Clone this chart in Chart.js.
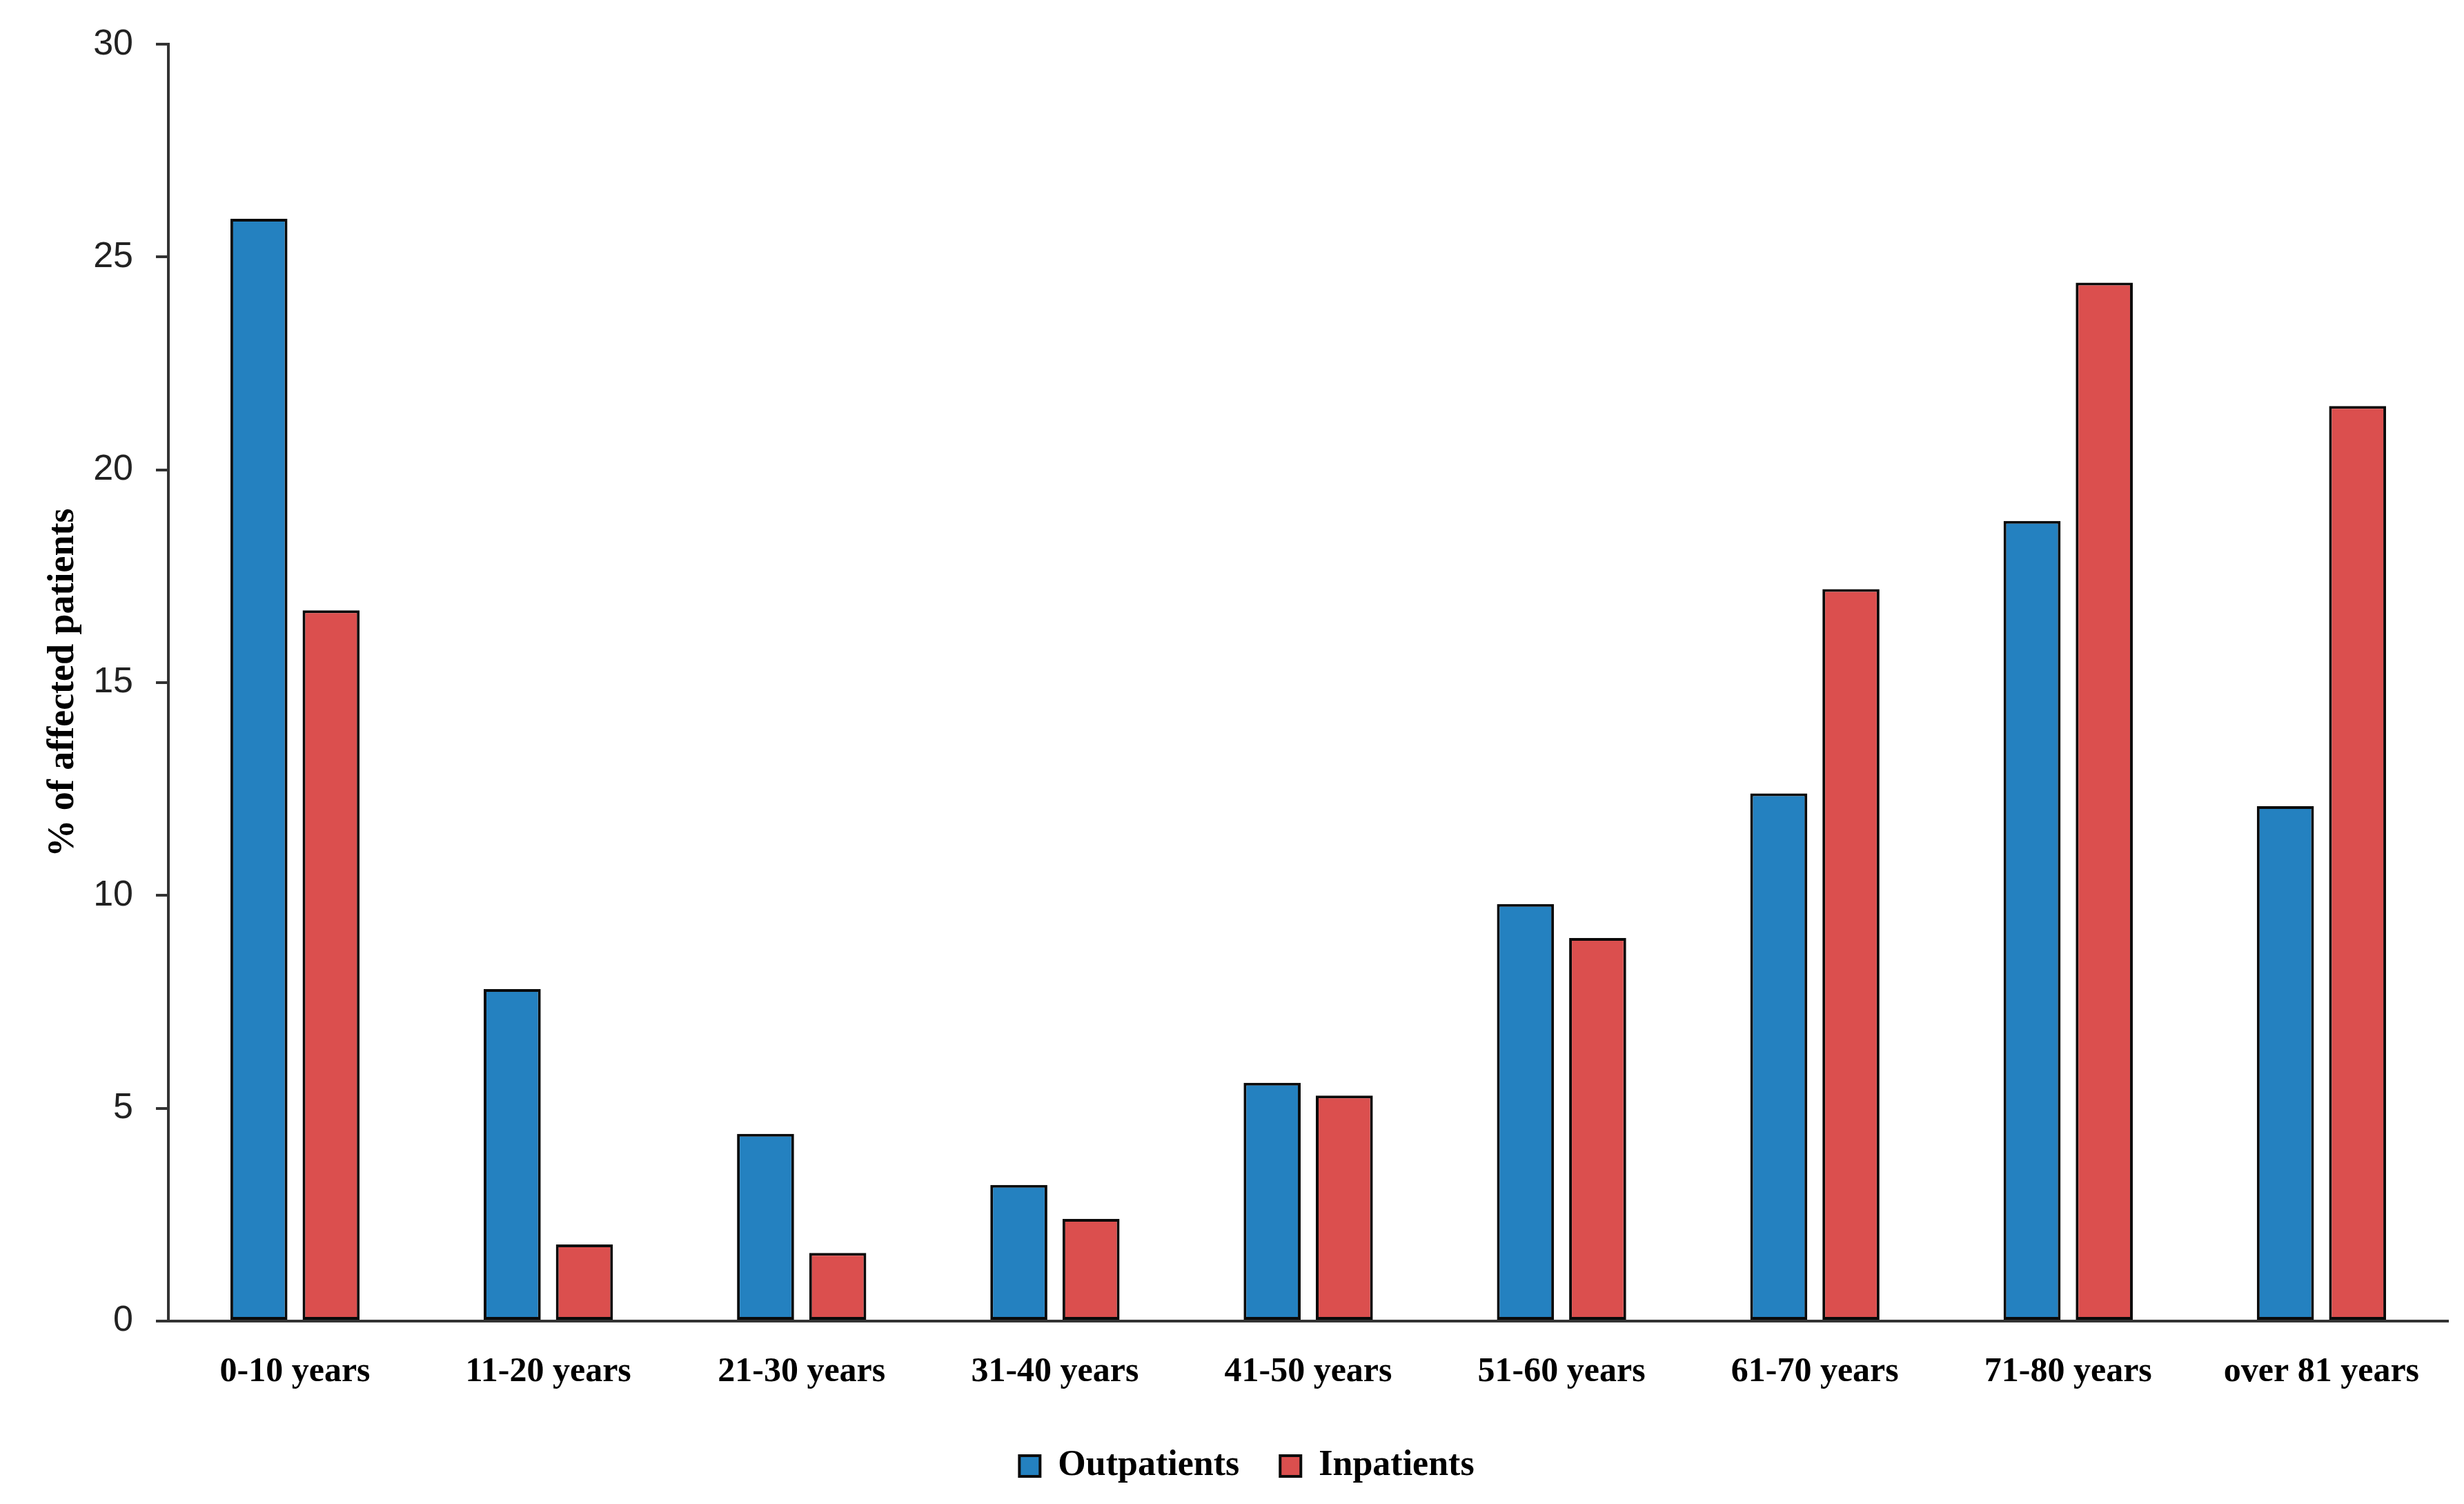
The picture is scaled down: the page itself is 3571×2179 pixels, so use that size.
<!DOCTYPE html>
<html>
<head>
<meta charset="utf-8">
<script src="https://cdn.jsdelivr.net/npm/chart.js@4.4.1/dist/chart.umd.min.js"></script>
<style>
  html, body { margin: 0; padding: 0; background: #fff; }
  #wrap { width: 3571px; height: 2179px; }
</style>
</head>
<body>
<div id="wrap"><canvas id="chart" width="3571" height="2179"></canvas></div>
<script>
// age groups and % of affected patients
const categories = ['0-10 years', '11-20 years', '21-30 years', '31-40 years', '41-50 years',
  '51-60 years', '61-70 years', '71-80 years', 'over 81 years'];
const outpatients = [25.9, 7.8, 4.4, 3.2, 5.6, 9.8, 12.4, 18.8, 12.1];
const inpatients = [16.7, 1.8, 1.6, 2.4, 5.3, 9.0, 17.2, 24.4, 21.5];
const yTicks = [0, 5, 10, 15, 20, 25, 30];

const axisColor = '#333333';

const ctx = document.getElementById('chart').getContext('2d');
new Chart(ctx, {
  type: 'bar',
  data: {
    labels: categories,
    datasets: [
      {
        label: 'Outpatients',
        data: outpatients,
        backgroundColor: '#2481c0',
        borderColor: '#0a0a0a',
        borderWidth: 4,
        borderSkipped: false,
        barPercentage: 0.79,
        categoryPercentage: 0.57
      },
      {
        label: 'Inpatients',
        data: inpatients,
        backgroundColor: '#db4f4e',
        borderColor: '#0a0a0a',
        borderWidth: 4,
        borderSkipped: false,
        barPercentage: 0.79,
        categoryPercentage: 0.57
      }
    ]
  },
  options: {
    responsive: false,
    animation: false,
    devicePixelRatio: 1,
    // left padding nudges the centred legend to where the original sits
    layout: { padding: { top: 64, right: 23, bottom: 19, left: 66 } },
    plugins: {
      tooltip: { enabled: false },
      legend: {
        position: 'bottom',
        labels: {
          color: '#000',
          boxWidth: 30,
          boxHeight: 30,
          padding: 59,
          font: { family: 'Liberation Serif', size: 52, weight: 'bold' }
        }
      }
    },
    scales: {
      x: {
        grid: { display: false, drawTicks: false },
        border: { display: true, color: axisColor, width: 4 },
        ticks: {
          color: '#000',
          padding: 44,
          maxRotation: 0,
          font: { family: 'Liberation Serif', size: 50, weight: 'bold' }
        },
        afterFit: (scale) => { scale.height = 125; }
      },
      y: {
        min: 0,
        max: 30,
        afterBuildTicks: (scale) => { scale.ticks = yTicks.map(v => ({ value: v })); },
        grid: { drawOnChartArea: false, drawTicks: true, tickLength: 18, color: axisColor, lineWidth: 4 },
        border: { display: true, color: axisColor, width: 4 },
        ticks: {
          color: '#222',
          padding: 33,
          font: { family: 'Liberation Sans', size: 52 }
        },
        title: {
          display: true,
          text: '% of affected patients',
          color: '#000',
          padding: { top: -6, bottom: 0 },
          font: { family: 'Liberation Serif', size: 54, weight: 'bold' }
        },
        afterFit: (scale) => { scale.width = 178; }
      }
    }
  }
});
</script>
</body>
</html>
